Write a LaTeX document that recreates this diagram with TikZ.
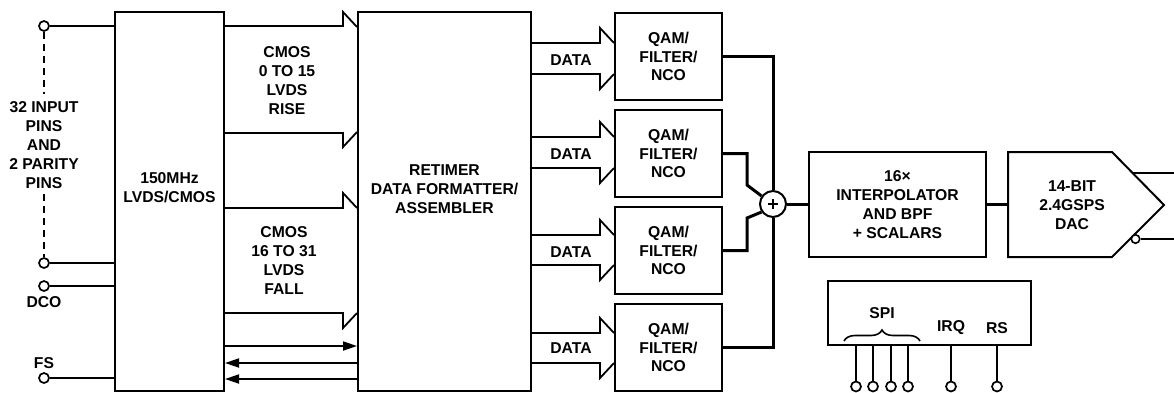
\documentclass[tikz,border=0pt]{standalone}
\usepackage{fontspec}
\setmainfont{Liberation Sans}
\usetikzlibrary{arrows.meta,decorations.pathreplacing,calc}
\begin{document}
\begin{tikzpicture}[x=1pt,y=-1pt,
  txt/.style={font=\fontsize{15.7pt}{18.8pt}\selectfont\bfseries, align=center, inner sep=0pt},
  box/.style={draw, line width=2pt, fill=white, txt},
  wire/.style={line width=1.8pt},
  bus/.style={line width=3pt},
  pin/.style={circle, draw, line width=1.7pt, fill=white, inner sep=0pt, minimum size=10pt},
  tip/.style={-{Triangle[length=14pt,width=9pt]}},
]
\useasboundingbox (0,0) rectangle (1174,392);

% main blocks
\node[box, minimum width=109pt, minimum height=379pt] (lvds) at (169.5,201.5) {};
\node[txt] (lvdst) at (169.5,187.5) {150MHz\\LVDS/CMOS};
\node[box, minimum width=173pt, minimum height=379pt] (ret) at (444.5,201.5) {};
\node[txt] (rett) at (444.5,189) {RETIMER\\DATA FORMATTER/\\ASSEMBLER};

% input pins
\node[pin] (p0) at (44,26) {};
\node[pin] (p31) at (44,263) {};
\node[pin] (dco) at (44,286) {};
\node[pin] (fs) at (44,378) {};
\node[txt] (pinst) at (44,145) {32 INPUT\\PINS\\AND\\2 PARITY\\PINS};
\node[txt] (dcot) at (44,302) {DCO};
\node[txt] (fst) at (44,363) {FS};
\draw[wire] (p0) -- (p0 -| lvds.west);
\draw[wire] (p31) -- (p31 -| lvds.west);
\draw[wire] (dco) -- (dco -| lvds.west);
\draw[wire] (fs) -- (fs -| lvds.west);
\draw[wire, dash pattern=on 7pt off 5pt, shorten >=8pt] (p0.south) -- (pinst.north);
\draw[wire, dash pattern=on 7pt off 5pt, shorten <=6pt] (pinst.south) -- (p31.north);

% wide bus arrows between blocks
\draw[wire] (lvds.east |- 0,26) -- (343,26) -- (343,12) -- (ret.west |- 0,27);
\draw[wire] (lvds.east |- 0,133) -- (343,133) -- (343,147) -- (ret.west |- 0,132);
\node[txt] (bus1) at (287,80.5) {CMOS\\0 TO 15\\LVDS\\RISE};
\draw[wire] (lvds.east |- 0,208) -- (343,208) -- (343,193) -- (ret.west |- 0,208);
\draw[wire] (lvds.east |- 0,313) -- (343,313) -- (343,328) -- (ret.west |- 0,313);
\node[txt] (bus2) at (284,260.5) {CMOS\\16 TO 31\\LVDS\\FALL};

% thin control arrows
\draw[wire, tip] (lvds.east |- 0,346) -- (ret.west |- 0,346);
\draw[wire, tip] (ret.west |- 0,363) -- (lvds.east |- 0,363);
\draw[wire, tip] (ret.west |- 0,379) -- (lvds.east |- 0,379);

% QAM blocks
\node[box, minimum width=107pt, minimum height=87pt] (q1) at (668.5,56.5) {QAM/\\FILTER/\\NCO};
\node[box, minimum width=107pt, minimum height=87pt] (q2) at (668.5,153.5) {QAM/\\FILTER/\\NCO};
\node[box, minimum width=107pt, minimum height=87pt] (q3) at (668.5,250.5) {QAM/\\FILTER/\\NCO};
\node[box, minimum width=107pt, minimum height=87pt] (q4) at (668.5,347.5) {QAM/\\FILTER/\\NCO};

% DATA arrows
\draw[wire] (ret.east |- 0,43) -- (600,43) -- (600,28) -- (q1.west |- 0,43);
\draw[wire] (ret.east |- 0,74) -- (600,74) -- (600,89) -- (q1.west |- 0,74);
\node[txt] (d1t) at (571,60) {DATA};
\draw[wire] (ret.east |- 0,137) -- (600,137) -- (600,122) -- (q2.west |- 0,137);
\draw[wire] (ret.east |- 0,168) -- (600,168) -- (600,183) -- (q2.west |- 0,168);
\node[txt] (d2t) at (571,154) {DATA};
\draw[wire] (ret.east |- 0,235) -- (600,235) -- (600,220) -- (q3.west |- 0,235);
\draw[wire] (ret.east |- 0,265) -- (600,265) -- (600,280) -- (q3.west |- 0,265);
\node[txt] (d3t) at (571,252) {DATA};
\draw[wire] (ret.east |- 0,333) -- (600,333) -- (600,318) -- (q4.west |- 0,333);
\draw[wire] (ret.east |- 0,363) -- (600,363) -- (600,378) -- (q4.west |- 0,363);
\node[txt] (d4t) at (571,348) {DATA};

% summing junction
\node[circle, draw, line width=2pt, fill=white, minimum size=26pt, inner sep=0pt] (sum) at (773,204) {};
\draw[line width=2.2pt] ([xshift=-5pt]sum.center) -- ([xshift=5pt]sum.center);
\draw[line width=2.2pt] ([yshift=-5pt]sum.center) -- ([yshift=5pt]sum.center);
\draw[bus] (q1.east) -| (sum.north);
\draw[bus] (q2.east) -- (747,153.5) -- (747,185) -- (sum.145);
\draw[bus] (q3.east) -- (747,250.5) -- (747,218) -- (sum.215);
\draw[bus] (q4.east) -| (sum.south);

% interpolator
\node[box, minimum width=177pt, minimum height=105pt] (interp) at (897.5,204.5) {16×\\INTERPOLATOR\\AND BPF\\+ SCALARS};
\draw[bus] (sum.east) -- (sum.east -| interp.west);

% DAC
\coordinate (da) at (1008,152);
\coordinate (db) at (1112,152);
\coordinate (dtip) at (1164,205);
\coordinate (dc) at (1112,257);
\coordinate (dd) at (1008,257);
\draw[line width=2pt, fill=white, line join=miter] (da) -- (db) -- (dtip) -- (dc) -- (dd) -- cycle;
\node[txt] (dac) at (1072,205) {14-BIT\\2.4GSPS\\DAC};
\draw[bus] (interp.east) -- (interp.east -| da);
\coordinate (o1) at ($(db)!{21/53}!(dtip)$);
\coordinate (out1) at (1174,173);
\draw[wire] (o1) -- (out1 |- o1);
\node[circle, draw, line width=1.6pt, fill=white, inner sep=0pt, minimum size=8.5pt] (inv) at (1135.5,239) {};
\coordinate (out2) at (1174,239);
\draw[wire] (inv.east) -- (out2);

% SPI box
\node[draw, line width=2pt, minimum width=203pt, minimum height=64pt] (spi) at (929.5,313) {};
\node[txt] (spit) at (882,313) {SPI};
\node[txt] (irqt) at (951,328) {IRQ};
\node[txt] (rst) at (997,328) {RS};
\draw[line width=1.6pt, decorate, decoration={brace, amplitude=11pt}] (844,341) -- (920,341);
\foreach \n/\x in {s1/856, s2/873, s3/891, s4/908, irq/951, rs/997} {
  \node[pin] (\n) at (\x,386.5) {};
  \draw[wire] (\n) -- (\n |- spi.south);
}
\end{tikzpicture}
\end{document}
